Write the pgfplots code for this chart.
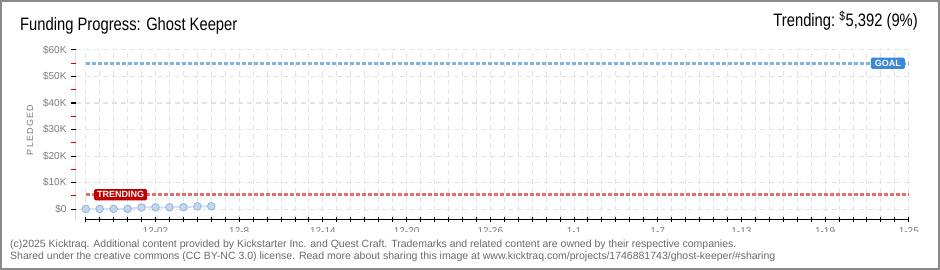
\documentclass[border=0pt]{standalone}
\usepackage{pgfplots}
\pgfplotsset{compat=1.18}
\usepackage{fontspec}
\setmainfont{Liberation Sans}
\newfontfamily\titlefont[FakeStretch=0.82]{Liberation Sans}
\definecolor{gridc}{HTML}{E2E2E2}
\definecolor{goalc}{HTML}{7FB2E5}
\definecolor{trendc}{HTML}{E07070}
\definecolor{goalbox}{HTML}{3C88D8}
\definecolor{trendbox}{HTML}{C00000}
\definecolor{ptfill}{HTML}{C0D9F3}
\definecolor{ptdraw}{HTML}{94B2D2}
\definecolor{linec}{HTML}{CFE2F6}
\definecolor{labc}{HTML}{7A7A7A}
\definecolor{framec}{HTML}{8A8A8A}
\definecolor{footc}{HTML}{6A6A6A}
\begin{document}
\begin{tikzpicture}
\begin{axis}[
  name=ax, at={(0pt,0pt)}, anchor=south west, scale only axis,
  width=837pt, height=170pt,
  xmin=-0.7, xmax=59.3, ymin=-4150, ymax=60000,
  scaled y ticks=false, scaled x ticks=false,
  axis line style={draw=none},
  xtick={0,...,59},
  xticklabels={,,,,,12-02,,,,,,12-8,,,,,,12-14,,,,,,12-20,,,,,,12-26,,,,,,1-1,,,,,,1-7,,,,,,1-13,,,,,,1-19,,,,,,1-25},
  xtick pos=bottom, xtick align=center,
  ytick={0,10000,20000,30000,40000,50000,60000},
  yticklabels={\$0,\$10K,\$20K,\$30K,\$40K,\$50K,\$60K},
  minor ytick={5000,15000,25000,35000,45000,55000},
  ytick pos=left, ytick align=outside,
  major tick length=5pt, minor tick length=5pt,
  tick style={black, line width=1pt},
  minor tick style={red!85!black, line width=1pt},
  xmajorgrids, ymajorgrids,
  major grid style={gridc, dash pattern=on 5pt off 4pt, line width=1pt},
  xticklabel style={font=\fontsize{10}{12}\selectfont, text=labc, yshift=-1.5pt},
  yticklabel style={font=\fontsize{10}{12}\selectfont, text=labc, xshift=-1pt},
]
\draw[black, line width=1pt] (axis cs:0,-4150) -- (axis cs:59,-4150);
\draw[black, line width=1pt] (rel axis cs:0,0) -- (rel axis cs:0,1);
\addplot[goalc, line width=3pt, dash pattern=on 4pt off 2pt] coordinates {(0,55000) (59,55000)};
\addplot[trendc, line width=3pt, dash pattern=on 4pt off 2pt] coordinates {(0,5392) (59,5392)};
\addplot[linec, line width=2pt, mark=*, mark size=3.8pt,
  mark options={fill=ptfill, draw=ptdraw, line width=0.8pt}]
  coordinates {(0,0) (1,20) (2,40) (3,60) (4,580) (5,620) (6,650) (7,680) (8,1000) (9,1040)};
\node[fill=trendbox, text=white, rounded corners=1.5pt, inner xsep=3pt, inner ysep=2.5pt,
  font=\bfseries\fontsize{9}{10}\selectfont] at (axis cs:2.5,5392) {TRENDING};
\node[fill=goalbox, text=white, rounded corners=1.5pt, inner xsep=4pt, inner ysep=2.5pt,
  font=\bfseries\fontsize{9}{10}\selectfont] at (axis cs:57.5,55000) {GOAL};
\end{axis}
\begin{scope}[x=1pt, y=1pt, shift={(ax.south west)}, shift={(-76pt,-50pt)}]
\pgfresetboundingbox
\path[use as bounding box] (0,0) rectangle (940,270);
\fill[white] (2,2) rectangle (937,38);
\node[rotate=90, text=labc, font=\fontsize{9}{10}\selectfont] at (30,140) {P\kern1.2pt L\kern1.2pt E\kern1.2pt D\kern1.2pt G\kern1.2pt E\kern1.2pt D};
\node[anchor=base west, inner sep=0pt, font=\titlefont\fontsize{18}{20}\selectfont] at (20,239.3) {Funding Progress: Ghost Keeper};
\node[anchor=base east, inner sep=0pt, font=\titlefont\fontsize{18}{20}\selectfont] at (918,243.3) {Trending:\ \textsuperscript{\$}5,392 (9\%)};
\node[anchor=base west, inner sep=0pt, text=footc, font=\fontsize{10.5}{12}\selectfont] at (10,22) {(c)2025 Kicktraq. Additional content provided by Kickstarter Inc. and Quest Craft. Trademarks and related content are owned by their respective companies.};
\node[anchor=base west, inner sep=0pt, text=footc, font=\fontsize{10.5}{12}\selectfont] at (10,10) {Shared under the creative commons (CC BY-NC 3.0) license. Read more about sharing this image at www.kicktraq.com/projects/1746881743/ghost-keeper/\#sharing};
\draw[framec, line width=2pt] (1,1) rectangle (939,269);
\end{scope}
\end{tikzpicture}
\end{document}
